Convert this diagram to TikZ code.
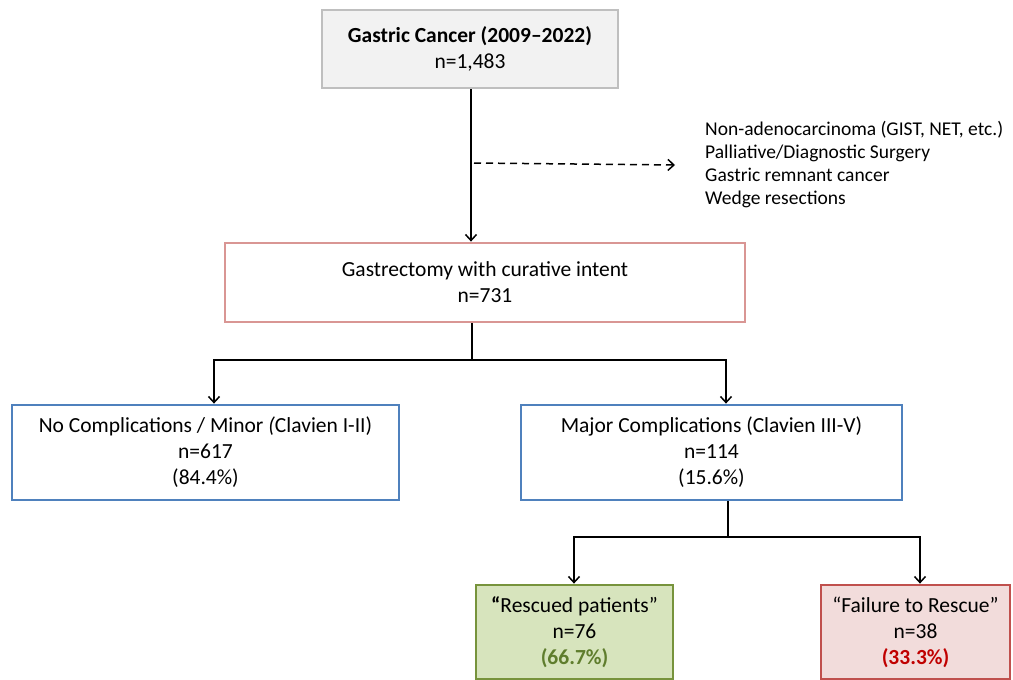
\documentclass[tikz,border=0pt]{standalone}
\usepackage{fontspec}
\setmainfont{Carlito}
\usetikzlibrary{arrows.meta}
\definecolor{boxgray}{RGB}{191,191,191}
\definecolor{fillgray}{RGB}{242,242,242}
\definecolor{pinkline}{RGB}{217,150,148}
\definecolor{blueline}{RGB}{79,129,189}
\definecolor{greenline}{RGB}{119,147,60}
\definecolor{greenfill}{RGB}{215,228,189}
\definecolor{greentext}{RGB}{95,125,45}
\definecolor{redline}{RGB}{192,80,77}
\definecolor{redfill}{RGB}{242,220,219}
\definecolor{redtext}{RGB}{192,0,0}
\begin{document}
\begin{tikzpicture}[x=1pt,y=-1pt,
		font=\fontsize{21.5}{26}\selectfont,
		box/.style={draw, line width=2.8pt, align=center, inner sep=0pt},
		link/.style={line width=1.5pt, -{Straight Barb[length=6pt,width=11pt,line width=1.5pt]}}]
	\useasboundingbox (0,0) rectangle (1013,680);
	% --- Cajas ---
	\node[box, draw=boxgray, fill=fillgray, minimum width=296, minimum height=78] (total) at (470,49)
		{\textbf{Gastric Cancer (2009--2022)}\\n=1,483};
	\node[box, draw=pinkline, minimum width=520, minimum height=79] (gastr) at (485,282.5)
		{Gastrectomy with curative intent\\n=731};
	\node[box, draw=blueline, minimum width=387, minimum height=95] (minor) at (205.5,452.5)
		{No Complications / Minor \textit{(}Clavien I-II)\\n=617\\(84.4\%)};
	\node[box, draw=blueline, minimum width=381, minimum height=95] (major) at (711.5,452.5)
		{Major Complications (Clavien III-V)\\n=114\\(15.6\%)};
	\node[box, draw=greenline, fill=greenfill, minimum width=197, minimum height=94] (rescued) at (574.5,632)
		{\textbf{``}Rescued patients''\\n=76\\\textcolor{greentext}{\textbf{(66.7\%)}}};
	\node[box, draw=redline, fill=redfill, minimum width=189, minimum height=94] (ftr) at (915.5,632)
		{``Failure to Rescue''\\n=38\\\textcolor{redtext}{\textbf{(33.3\%)}}};
	% --- Exclusiones ---
	\node[anchor=west, align=left, inner sep=0pt, font=\fontsize{19.5}{23}\selectfont] (excl) at (705,165)
		{Non-adenocarcinoma (GIST, NET, etc.)\\Palliative/Diagnostic Surgery\\Gastric remnant cancer\\Wedge resections};
	% --- Conectores ---
	\coordinate (main) at (471,163);
	\coordinate (split1) at (472,360);
	\coordinate (split2) at (728,537);
	\draw[link] (total.south -| main) -- (gastr.north -| main);
	\draw[link, dashed, dash pattern=on 7pt off 5pt] ([xshift=3pt]main) -- ([xshift=-30pt]excl.west);
	\draw[line width=1.5pt] (gastr.south -| split1) -- (split1);
	\draw[link] (split1) -| ([xshift=8.5pt]minor.north);
	\draw[link] (split1) -| ([xshift=14.5pt]major.north);
	\draw[line width=1.5pt] (major.south -| split2) -- (split2);
	\draw[link] (split2) -| ([xshift=-0.5pt]rescued.north);
	\draw[link] (split2) -| ([xshift=4.5pt]ftr.north);
\end{tikzpicture}
\end{document}
